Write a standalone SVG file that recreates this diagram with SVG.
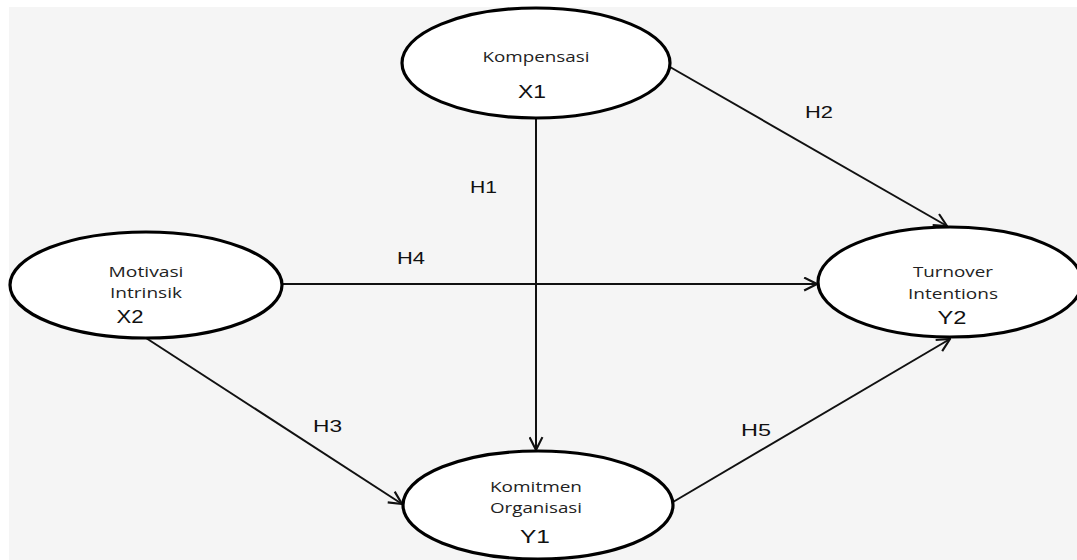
<svg xmlns="http://www.w3.org/2000/svg" width="1077" height="560" viewBox="0 0 1077 560">
<defs>
<marker id="arr" viewBox="0 0 14 14" refX="13" refY="7" markerWidth="15" markerHeight="15" markerUnits="userSpaceOnUse" orient="auto">
<path d="M1,1 L13,7 L1,13" fill="none" stroke="#111" stroke-width="2"/>
</marker>
<style>
.node ellipse{fill:#fff;stroke:#000;stroke-width:3.2}
.lbl{font-family:"Open Sans","Noto Sans",sans-serif;font-size:15px;fill:#222;text-anchor:middle}
.code{font-family:"Liberation Sans",Arial,sans-serif;font-size:19px;fill:#111;text-anchor:middle}
.h{font-family:"Liberation Sans",Arial,sans-serif;font-size:17px;fill:#111}
.conn line{stroke:#111;stroke-width:2;marker-end:url(#arr)}
</style>
</defs>
<rect x="0" y="0" width="1077" height="560" fill="#fff"/>
<rect x="9" y="7" width="1068" height="553" fill="#f5f5f5"/>
<g id="connectors" class="conn">
<line x1="536" y1="118" x2="536" y2="450"/>
<line x1="670" y1="67" x2="947" y2="226"/>
<line x1="282" y1="284" x2="817" y2="284"/>
<line x1="146" y1="338" x2="402" y2="504"/>
<line x1="673" y1="502" x2="950" y2="339"/>
</g>
<g id="labels">
<text class="h" x="470" y="193" textLength="27" lengthAdjust="spacingAndGlyphs">H1</text>
<text class="h" x="805" y="118" textLength="28" lengthAdjust="spacingAndGlyphs">H2</text>
<text class="h" x="397" y="264" textLength="28" lengthAdjust="spacingAndGlyphs">H4</text>
<text class="h" x="313" y="432" textLength="29" lengthAdjust="spacingAndGlyphs">H3</text>
<text class="h" x="741" y="436" textLength="30" lengthAdjust="spacingAndGlyphs">H5</text>
</g>
<g id="kompensasi" class="node">
<ellipse cx="536" cy="63" rx="134" ry="55"/>
<text class="lbl" x="536" y="62" textLength="107" lengthAdjust="spacingAndGlyphs">Kompensasi</text>
<text class="code" x="532" y="98" textLength="28" lengthAdjust="spacingAndGlyphs">X1</text>
</g>
<g id="motivasi" class="node">
<ellipse cx="146" cy="285" rx="136" ry="53"/>
<text class="lbl" x="146" y="277" textLength="75" lengthAdjust="spacingAndGlyphs">Motivasi</text>
<text class="lbl" x="146" y="298" textLength="72" lengthAdjust="spacingAndGlyphs">Intrinsik</text>
<text class="code" x="130" y="323" textLength="27" lengthAdjust="spacingAndGlyphs">X2</text>
</g>
<g id="turnover" class="node">
<ellipse cx="950" cy="282" rx="132" ry="55"/>
<text class="lbl" x="953" y="277" textLength="80" lengthAdjust="spacingAndGlyphs">Turnover</text>
<text class="lbl" x="953" y="299" textLength="90" lengthAdjust="spacingAndGlyphs">Intentions</text>
<text class="code" x="952" y="324" textLength="29" lengthAdjust="spacingAndGlyphs">Y2</text>
</g>
<g id="komitmen" class="node">
<ellipse cx="538" cy="505" rx="135" ry="54"/>
<text class="lbl" x="536" y="492" textLength="92" lengthAdjust="spacingAndGlyphs">Komitmen</text>
<text class="lbl" x="536" y="513" textLength="92" lengthAdjust="spacingAndGlyphs">Organisasi</text>
<text class="code" x="535" y="543" textLength="30" lengthAdjust="spacingAndGlyphs">Y1</text>
</g>
</svg>
